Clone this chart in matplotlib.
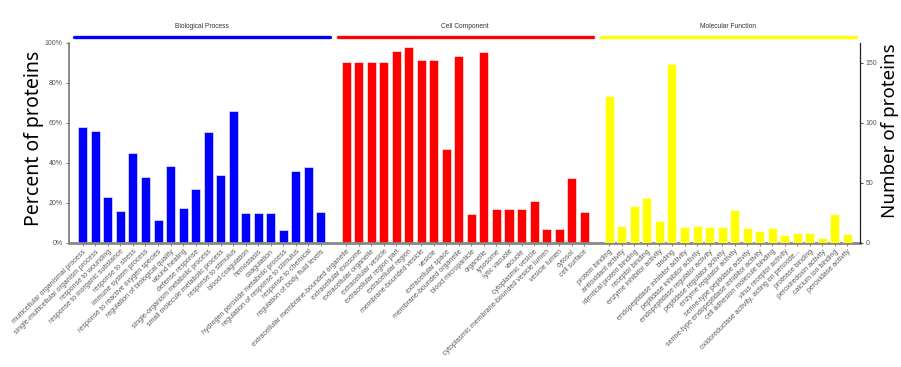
import numpy as np
import matplotlib
matplotlib.use("Agg")
import matplotlib.pyplot as plt

# GO level-2 terms, three groups
bp_terms = [
    "multicellular organismal process", "single-multicellular organism process",
    "response to wounding", "response to inorganic substance", "response to stress",
    "immune system process", "response to reactive oxygen species",
    "regulation of biological quality", "wound healing", "defense response",
    "single-organism metabolic process", "small molecule metabolic process",
    "response to stimulus", "blood coagulation", "hemostasis", "coagulation",
    "hydrogen peroxide metabolic process", "regulation of response to stimulus",
    "response to chemical", "regulation of body fluid levels",
]
bp_pct = [57.7, 56, 22.7, 16, 45, 33, 11.3, 38.3, 17.2, 26.8,
          55.3, 33.7, 65.7, 14.8, 14.8, 14.8, 6.3, 36, 37.8, 15.5]

cc_terms = [
    "extracellular membrane-bounded organelle", "extracellular exosome",
    "extracellular organelle", "extracellular vesicle", "extracellular region part",
    "extracellular region", "membrane-bounded vesicle", "vesicle",
    "extracellular space", "membrane-bounded organelle", "blood microparticle",
    "organelle", "lysosome", "lytic vacuole", "vacuole", "cytoplasmic vesicle",
    "cytoplasmic membrane-bounded vesicle lumen", "vesicle lumen", "cytosol",
    "cell surface",
]
cc_pct = [90.3, 90.3, 90.3, 90.3, 95.8, 97.7, 91.2, 91.2, 47, 93.5,
          14.3, 95.3, 16.7, 16.7, 16.7, 21, 7, 7, 32.5, 15.5]

mf_terms = [
    "protein binding", "antioxidant activity", "identical protein binding",
    "receptor binding", "enzyme inhibitor activity", "binding",
    "endopeptidase inhibitor activity", "peptidase inhibitor activity",
    "endopeptidase regulator activity", "peptidase regulator activity",
    "enzyme regulator activity", "serine-type peptidase activity",
    "serine-type endopeptidase inhibitor activity", "cell adhesion molecule binding",
    "virus receptor activity", "oxidoreductase activity, acting on peroxide...",
    "protease binding", "peroxiredoxin activity", "calcium ion binding",
    "peroxidase activity",
]
mf_count = [122, 14, 31, 37, 18, 149, 13, 14, 13, 13,
            27, 12, 10, 12, 6, 8, 8, 4, 24, 7]

group_names = ["Biological Process", "Cell Component", "Molecular Function"]
group_colors = ["#0000ff", "#ff0000", "#ffff00"]
total_proteins = 166.7  # right axis top == 100%

fig = plt.figure(figsize=(9.01, 3.67), dpi=100)
ax = fig.add_axes([0.0766, 0.3387, 0.8779, 0.545])
ax2 = ax.twinx()

gap = 2
x_bp = np.arange(len(bp_pct))
x_cc = x_bp[-1] + gap + np.arange(len(cc_pct))
x_mf = x_cc[-1] + gap + np.arange(len(mf_count))

w = 0.72
ax.bar(x_bp, bp_pct, width=w, color=group_colors[0], edgecolor="white", linewidth=0.4)
ax.bar(x_cc, cc_pct, width=w, color=group_colors[1], edgecolor="white", linewidth=0.4)
ax2.bar(x_mf, mf_count, width=w, color=group_colors[2], edgecolor="white", linewidth=0.4)

ax.set_xlim(-1.1, x_mf[-1] + 1.0)
ax.set_ylim(0, 100)
ax2.set_ylim(0, total_proteins)

# group bars + titles above the plot
for xs, name, col in zip([x_bp, x_cc, x_mf], group_names, group_colors):
    ax.plot([xs[0] - 0.68, xs[-1] + 0.68], [102.9, 102.9], color=col, lw=2.4,
            clip_on=False, solid_capstyle="round")
    ax.text((xs[0] + xs[-1]) / 2, 106.5, name, ha="center", va="bottom",
            fontsize=4.8, color="#333333", family="Liberation Sans")

# x tick labels
all_x = np.concatenate([x_bp, x_cc, x_mf])
all_terms = bp_terms + cc_terms + mf_terms
ax.set_xticks(all_x)
ax.set_xticklabels(all_terms, rotation=45, ha="right", rotation_mode="anchor",
                   fontsize=5, color="#5a5a5a", family="Liberation Sans")
ax.tick_params(axis="x", length=2, width=0.6, color="#666666", pad=2)

ax.set_yticks([0, 20, 40, 60, 80, 100])
ax.set_yticklabels(["0%", "20%", "40%", "60%", "80%", "100%"],
                   fontsize=5, color="#555555", family="Liberation Sans")
ax.tick_params(axis="y", length=2.5, width=0.6, color="#666666", pad=2)

ax2.set_yticks([0, 50, 100, 150])
ax2.set_yticklabels(["0", "50", "100", "150"], fontsize=5, color="#555555",
                    family="Liberation Sans")
ax2.tick_params(axis="y", length=2.5, width=0.6, color="#333333", pad=1.5)

for a in (ax, ax2):
    a.spines["top"].set_visible(False)
ax.spines["left"].set_color("#777777")
ax.spines["left"].set_linewidth(1.2)
ax.spines["bottom"].set_color("#888888")
ax.spines["bottom"].set_linewidth(2)
ax.spines["right"].set_visible(False)
ax2.spines["left"].set_visible(False)
ax2.spines["bottom"].set_visible(False)
ax2.spines["right"].set_color("#222222")
ax2.spines["right"].set_linewidth(0.9)

ax.set_ylabel("Percent of proteins", fontsize=14, family="Noto Sans")
ax2.set_ylabel("Number of proteins", fontsize=13.5, family="Noto Sans")
ax.yaxis.set_label_coords(-0.032, 0.52)
ax2.yaxis.set_label_coords(1.027, 0.56)

fig.savefig("out.png", dpi=100)
